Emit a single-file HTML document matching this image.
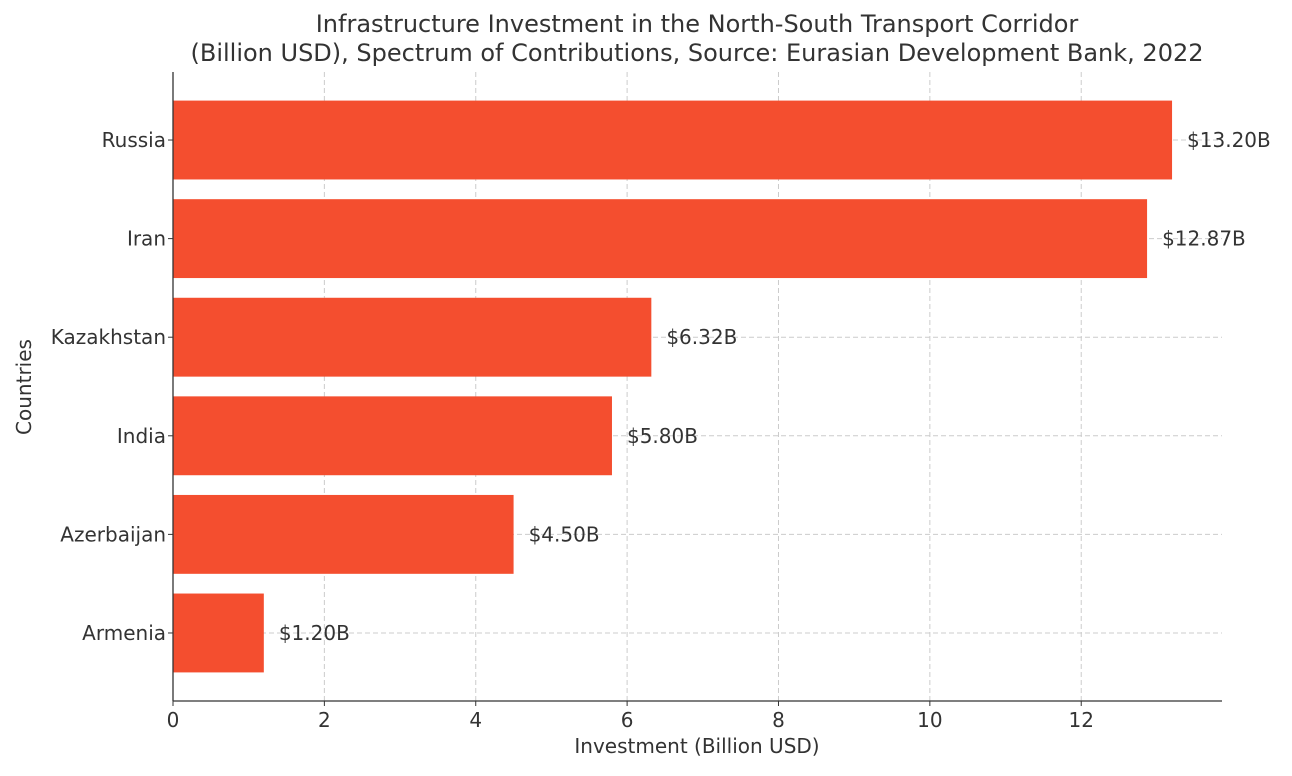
<!DOCTYPE html>
<html><head><meta charset="utf-8"><style>
body{margin:0;background:#fff;font-family:"Liberation Sans","DejaVu Sans",sans-serif}
svg text{font-family:"DejaVu Sans","Liberation Sans",sans-serif;fill:#333}
</style></head><body>
<svg id="chart" width="1292" height="771" viewBox="0 0 1292 771" xmlns="http://www.w3.org/2000/svg">
<text x="697" y="32" text-anchor="middle" font-size="24">Infrastructure Investment in the North-South Transport Corridor</text>
<text x="697" y="61" text-anchor="middle" font-size="24">(Billion USD), Spectrum of Contributions, Source: Eurasian Development Bank, 2022</text>
<g id="grid"></g><g id="bars"></g><g id="axes"></g>
<text x="697" y="753" text-anchor="middle" font-size="20">Investment (Billion USD)</text>
<text transform="translate(31,387) rotate(-90)" text-anchor="middle" font-size="20">Countries</text>
</svg>
<script>
const categories = ["Russia","Iran","Kazakhstan","India","Azerbaijan","Armenia"];
const values = [13.2,12.87,6.32,5.8,4.5,1.2];
const xTicks = [0,2,4,6,8,10,12];
const L=173,R=1222,T=72,B=701,xMax=13.86;
const n=categories.length, yMin=-0.69, yMax=n-1+0.69;
const x=v=>L+(v/xMax)*(R-L);
const y=i=>B-((n-1-i)-yMin)/(yMax-yMin)*(B-T);
const unit=(B-T)/(yMax-yMin);
const NS="http://www.w3.org/2000/svg";
function mk(tag,attrs,parent,txt){const e=document.createElementNS(NS,tag);for(const k in attrs)e.setAttribute(k,attrs[k]);if(txt!==undefined)e.textContent=txt;parent.appendChild(e);return e;}
const grid=document.getElementById('grid'),bars=document.getElementById('bars'),axes=document.getElementById('axes');
xTicks.forEach(t=>{
 const g=mk('line',{x1:x(t),x2:x(t),y1:T,y2:B,stroke:'#ccc','stroke-dasharray':'5,3','stroke-width':1},grid);
 
 
 const tk=mk('line',{x1:x(t),x2:x(t),y1:B,y2:B+5,stroke:'#333'},axes);
 
 
 const lb=mk('text',{x:x(t),y:B+26,'text-anchor':'middle','font-size':20},axes,String(t));
 
 
});
categories.forEach((c,i)=>{
 const cy=y(i);
 const g=mk('line',{x1:L,x2:R,y1:cy,y2:cy,stroke:'#ccc','stroke-dasharray':'5,3','stroke-width':1},grid);
 
 
 const b=mk('rect',{x:L,y:cy-0.4*unit,width:x(values[i])-L,height:0.8*unit,fill:'#F44E2F'},bars);
 
 
 const v=mk('text',{x:x(values[i])+15,y:cy+7,'font-size':20},bars,'$'+values[i].toFixed(2)+'B');
 
 
 const tk=mk('line',{x1:L-5,x2:L,y1:cy,y2:cy,stroke:'#333'},axes);
 
 
 const lb=mk('text',{x:L-7,y:cy+7,'text-anchor':'end','font-size':20},axes,c);
 
 
});
const ya=mk('line',{x1:L,x2:L,y1:T,y2:B,stroke:'#333','stroke-width':1.3},axes);


const xa=mk('line',{x1:L,x2:R,y1:B,y2:B,stroke:'#333','stroke-width':1.3},axes);


</script>
</body></html>
